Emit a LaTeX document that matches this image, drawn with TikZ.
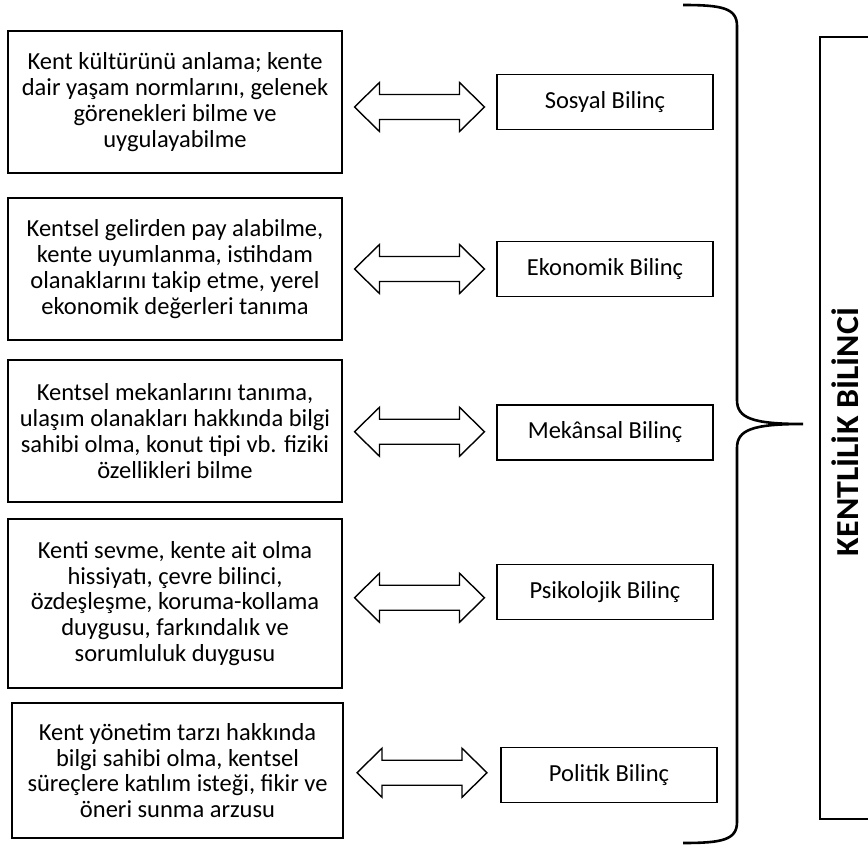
\documentclass[tikz,border=0pt]{standalone}
\usepackage{fontspec}
\setmainfont{Carlito}
\usetikzlibrary{positioning,calc}

\tikzset{
  descbox/.style={draw, line width=1.3pt, align=center, inner sep=0pt, minimum width=334pt,
    font=\fontsize{24.5}{25.8}\selectfont},
  typebox/.style={draw, line width=1.3pt, minimum width=216pt, minimum height=55pt, inner sep=0pt,
    font=\fontsize{24.5}{25.8}\selectfont},
  arrowline/.style={draw, line width=1.4pt, line join=miter},
}
% hollow two-way arrow round a centre point
\newcommand{\twoway}[1]{%
  \draw[arrowline] ($(#1)+(-65,0)$) -- ++(25,24.5) -- ++(0,-12) -- ++(80,0) -- ++(0,12)
    -- ++(25,-24.5) -- ++(-25,-24.5) -- ++(0,12) -- ++(-80,0) -- ++(0,-12) -- cycle;}

\begin{document}
\begin{tikzpicture}[x=1pt,y=-1pt]
			\useasboundingbox (0,0) rectangle (868,848);
			\clip (0,0) rectangle (868,848);
			
			% left column
			\node[descbox, minimum height=142pt] (kultur) at (175,102)
				{Kent kültürünü anlama; kente\\dair yaşam normlarını, gelenek\\görenekleri bilme ve\\uygulayabilme};
			\node[descbox, minimum height=142pt] (gelir) at (175,269)
				{Kentsel gelirden pay alabilme,\\kente uyumlanma, istihdam\\olanaklarını takip etme, yerel\\ekonomik değerleri tanıma};
			\node[descbox, minimum height=142pt] (mekan) at (175,431)
				{Kentsel mekanlarını tanıma,\\ulaşım olanakları hakkında bilgi\\sahibi olma, konut tipi vb. fiziki\\özellikleri bilme};
			\node[descbox, minimum height=169pt] (sevgi) at (175,603.5)
				{Kenti sevme, kente ait olma\\hissiyatı, çevre bilinci,\\özdeşleşme, koruma-kollama\\duygusu, farkındalık ve\\sorumluluk duygusu};
			\node[descbox, minimum height=135pt, minimum width=331pt] (yonetim) at (177.5,770.5)
				{Kent yönetim tarzı hakkında\\bilgi sahibi olma, kentsel\\süreçlere katılım isteği, fikir ve\\öneri sunma arzusu};
			
			% middle column
			\node[typebox] (sosyal) at (605,102) {Sosyal Bilinç};
			\node[typebox] (ekonomik) at (605,269) {Ekonomik Bilinç};
			\node[typebox] (mekansal) at (605,432.5) {Mekânsal Bilinç};
			\node[typebox] (psikolojik) at (605,592) {Psikolojik Bilinç};
			\node[typebox] (politik) at (609,775) {Politik Bilinç};
			
			% double arrows
			\coordinate (a1) at ($(kultur.east)!0.5!(sosyal.west)+(0,5)$);
			\coordinate (a2) at ($(gelir.east)!0.5!(ekonomik.west)$);
			\coordinate (a3) at ($(mekan.east)!0.5!(mekansal.west)$);
			\coordinate (a4) at ($(sevgi.east)!0.5!(psikolojik.west)$);
			\coordinate (a5) at ($(yonetim.east)!0.5!(politik.west)$);
			\foreach \a in {a1,a2,a3,a4,a5} {\twoway{\a}}
			
			% brace
			\coordinate (bracetip) at (803,424);
			\draw[line width=2.6pt] (683,5) .. controls (722,5) and (737,8) .. (737,26) -- (737,400)
				.. controls (737,418) and (752,424) .. (bracetip)
				.. controls (752,424) and (737,430) .. (737,448) -- (737,822)
				.. controls (737,840) and (722,843) .. (683,843);
			
			% right box
			\node[draw, line width=1.8pt, minimum width=70pt, minimum height=782pt, inner sep=0pt] (kentlilik) at (855,428) {};
			\node[rotate=90, font=\fontsize{32}{36}\selectfont\bfseries] (kentlilikyazi) at (845,432)
				{\scalebox{1.06}[1]{KENTLİLİK BİLİNCİ}};
			
		\end{tikzpicture}
\end{document}
